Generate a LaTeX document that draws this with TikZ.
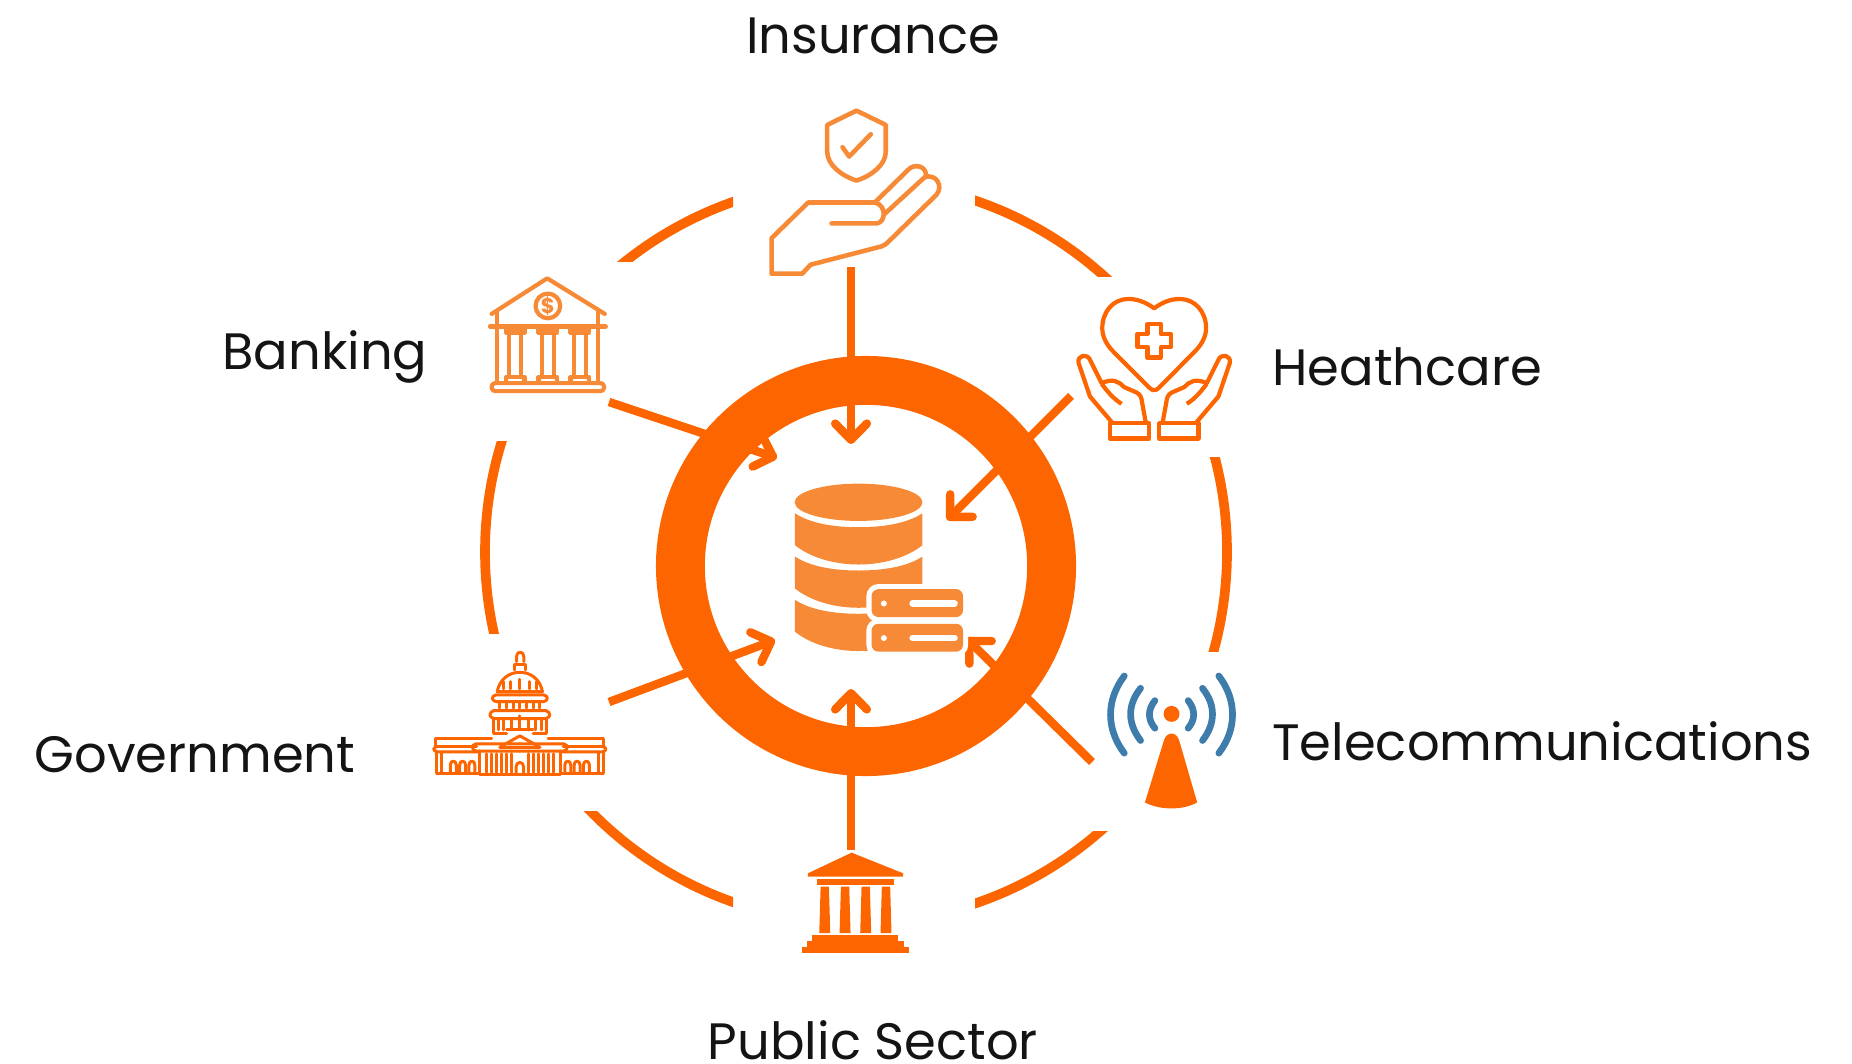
\documentclass[tikz,border=0pt]{standalone}
\usepackage{fontspec}
\setmainfont{Poppins}
\usepackage{tikz}
\usetikzlibrary{arrows.meta,arrows}
\usetikzlibrary{positioning}
\definecolor{ringorange}{HTML}{FD6500}
\definecolor{softorange}{HTML}{F68A37}
\definecolor{towerblue}{HTML}{3E7CAB}

\begin{document}
\begin{tikzpicture}[x=0.01cm,y=-0.01cm,>={Straight Barb[length=4.6pt,width=9pt,round]},semithick]
 \tikzstyle{hub node}=[circle,draw=ringorange,line width=13.9pt,minimum size=3.71cm,inner sep=0]
 \tikzstyle{label node}=[font=\fontsize{14.55pt}{17pt}\selectfont,text=black!92,inner sep=0]
 \tikzset{
 	icon scale/.style={x=0.00333cm,y=-0.00333cm},
 	feed/.style={draw=ringorange,line width=2.4pt,->},
 	sector arc/.style={draw=ringorange,line width=2.75pt},
 	soft line/.style={draw=softorange,line width=1.2pt,line join=round,line cap=round},
 	hot line/.style={draw=ringorange,line width=1.2pt,line join=round},
 	thin hot/.style={draw=ringorange,line width=0.85pt,line join=round,line cap=round},
 	wave/.style={draw=towerblue,line width=1.9pt,line cap=round}
 }
\useasboundingbox (0,0) rectangle (1852,1064);

       \node[hub node] (hub) at (866,566) {};

       \coordinate (insicon) at (740,90);
       \coordinate (bankicon) at (470,260);
       \coordinate (careicon) at (1060,280);
       \coordinate (telicon) at (1090,650);
       \coordinate (govicon) at (420,640);
       \coordinate (pubicon) at (780,840);
       \coordinate (dbicon) at (780,470);

       \node[label node] (insurance) [above of=hub,node distance=5.30cm,xshift=0.07cm] {Insurance};
       \node[label node] (banking) [left of=bankicon,node distance=1.45cm,yshift=-0.97cm] {Banking};
       \node[label node] (care) [right of=careicon,node distance=3.47cm,yshift=-0.87cm] {Heathcare};
       \node[label node] (telecom) [right of=telicon,node distance=4.52cm,yshift=-0.91cm] {Telecommunications};
       \node[label node] (government) [left of=govicon,node distance=2.25cm,yshift=-1.15cm] {Government};
       \node[label node] (public) [below of=hub,node distance=4.74cm,xshift=0.07cm] {Public Sector};

       \coordinate (f1) at (851,267);  \coordinate (t1) at (851,444);
       \coordinate (f2) at (609,402);  \coordinate (t2) at (777,458);
       \coordinate (f3) at (1071,396); \coordinate (t3) at (947,520);
       \coordinate (f4) at (609,702);  \coordinate (t4) at (775,640);
       \coordinate (f5) at (1092,762); \coordinate (t5) at (966,638);
       \coordinate (f6) at (851,850);  \coordinate (t6) at (851,689);

     \foreach \a/\b/\c/\d in {500/150/733/262,975/150/1115/277,1150/457/1260/651,975/831/1150/950,560/811/733/950,450/441/520/633}{
       \begin{scope}
         \clip (\a,\b) rectangle (\c,\d);
         \draw[sector arc] (856,552) circle (371);
       \end{scope}
     }

     \path (f1) edge[feed] (t1);
     \path (f2) edge[feed] (t2);
     \path (f3) edge[feed] (t3);
     \path (f4) edge[feed] (t4);
     \path (f5) edge[feed] (t5);
     \path (f6) edge[feed] (t6);

% insurance
\begin{scope}[shift={(insicon)},icon scale]
  \draw[soft line,line width=1.3pt] (350,62) -- (438,105) -- (438,185) .. controls (438,225) and (395,258) .. (350,272) .. controls (305,258) and (262,225) .. (262,185) -- (262,105) -- cycle;
  \draw[soft line,line width=1.3pt] (308,172) -- (328,200) -- (393,133);
  \draw[soft line,line width=1.3pt] (275,401) -- (410,401) .. controls (440,398) and (440,345) .. (405,338) -- (205,338) -- (95,445) -- (95,552) -- (187,552) -- (212,525) -- (425,470) .. controls (435,467) and (440,462) .. (450,452) -- (590,315) .. controls (612,290) and (590,250) .. (555,262) -- (435,372);
  \draw[soft line,line width=1.3pt] (405,338) -- (505,240) .. controls (525,218) and (565,230) .. (558,262);
\end{scope}

% banking
\begin{scope}[shift={(bankicon)},icon scale]
  \draw[soft line] (65,162) -- (232,55) -- (405,162);
  \draw[soft line] (82,155) -- (82,370);
  \draw[soft line] (385,155) -- (385,370);
  \draw[soft line] (60,200) -- (408,200);
  \draw[soft line] (234,138) circle (37);
  \node[font=\fontsize{6pt}{6pt}\selectfont\bfseries,text=softorange,inner sep=0] (dollar) at (234,138) {\$};
  \draw[soft line,rounded corners=1pt] (65,370) rectangle (403,394);
  \foreach \c in {136,234,330}{
    \draw[soft line] (\c-28,204) -- (\c+28,204) -- (\c+28,218) -- (\c-28,218) -- cycle;
    \draw[soft line] (\c-18,218) -- (\c-18,352);
    \draw[soft line] (\c+18,218) -- (\c+18,352);
    \draw[soft line] (\c-28,368) -- (\c-28,352) -- (\c+28,352) -- (\c+28,368);
  }
\end{scope}

% healthcare
\begin{scope}[shift={(careicon)},icon scale]
  \draw[hot line] (283,85) .. controls (255,65) and (230,57) .. (205,57) .. controls (160,57) and (127,95) .. (127,145) .. controls (127,170) and (140,195) .. (160,215) -- (270,325) .. controls (278,333) and (288,333) .. (296,325) -- (405,215) .. controls (425,195) and (439,170) .. (439,145) .. controls (439,95) and (405,57) .. (360,57) .. controls (335,57) and (310,65) .. cycle;
  \draw[hot line] (263,133) -- (303,133) -- (303,162) -- (333,162) -- (333,202) -- (303,202) -- (303,233) -- (263,233) -- (263,202) -- (233,202) -- (233,162) -- (263,162) -- cycle;
  \foreach \s in {1,-1}{
    \begin{scope}[shift={(283,0)},xscale=\s]
      \draw[hot line] (-133,430) rectangle (-15,476);
      \draw[hot line] (-125,430) -- (-193,350) -- (-227,250) .. controls (-233,225) and (-200,220) .. (-193,240) -- (-158,310) .. controls (-125,295) and (-105,305) .. (-90,322) -- (-53,338) .. controls (-40,345) and (-38,355) .. (-36,370) -- (-25,430);
      \draw[hot line] (-158,312) .. controls (-140,335) and (-125,355) .. (-98,372);
    \end{scope}
  }
\end{scope}

% telecom
\begin{scope}[shift={(telicon)},icon scale]
  \fill[ringorange] (245,192) circle (24);
  \fill[ringorange] (165,458) -- (222,272) .. controls (230,244) and (260,244) .. (268,272) -- (322,458) .. controls (280,482) and (210,482) .. cycle;
  \foreach \s in {1,-1}{
    \begin{scope}[shift={(245,0)},xscale=\s]
      \draw[wave] (-142,78) .. controls (-197,150) and (-197,238) .. (-142,310);
      \draw[wave] (-93,115) .. controls (-133,165) and (-133,220) .. (-93,272);
      \draw[wave] (-50,152) .. controls (-72,180) and (-72,208) .. (-50,235);
    \end{scope}
  }
\end{scope}

% government
\begin{scope}[shift={(govicon)},icon scale]
  \draw[thin hot] (290,65) -- (290,50) .. controls (290,32) and (312,32) .. (312,50) -- (312,65);
  \draw[thin hot] (284,90) -- (284,75) -- (318,75) -- (318,90);
  \foreach \s in {1,-1}{
    \begin{scope}[shift={(300,0)},xscale=\s]
      \draw[thin hot] (0,97) .. controls (-30,97) and (-60,115) .. (-68,155) -- (0,155);
      \draw[thin hot] (0,165) -- (-72,165) .. controls (-86,168) and (-86,182) .. (-72,185) -- (0,185);
      \draw[thin hot] (0,212) -- (-78,212) .. controls (-94,218) and (-94,232) .. (-78,236) -- (0,236);
      \draw[thin hot] (-80,236) -- (-80,282) -- (-40,282);
      \draw[thin hot] (-40,268) -- (0,268);
      \draw[thin hot] (-252,320) -- (-252,297) -- (-85,297);
      \draw[thin hot] (-130,320) -- (-248,320) .. controls (-262,322) and (-262,334) .. (-248,336) -- (-125,336);
      \draw[thin hot] (-250,336) -- (-250,400) -- (-122,400);
      \draw[thin hot] (-235,340) -- (-235,398);
      \draw[thin hot] (0,312) -- (-132,312) .. controls (-146,316) and (-146,328) .. (-132,334) -- (0,334);
      \draw[thin hot] (-122,334) -- (-122,405) -- (0,405);
      \draw[thin hot] (-60,322) -- (0,288);
      \draw[thin hot] (-60,322) -- (0,322);
      \foreach \d in {28,50}
        \draw[thin hot] (-\d,125) -- (-\d,147);
      \foreach \d in {20,40,60}
        \draw[thin hot] (-\d,188) -- (-\d,205);
      \foreach \d in {25,48,65}
        \draw[thin hot] (-\d,240) -- (-\d,270);
      \foreach \d in {25,40,55,70,85,100}
        \draw[thin hot] (-\d,342) -- (-\d,398);
      \foreach \d in {144,172,200}
        \draw[thin hot] (-\d-9,398) -- (-\d-9,376) .. controls (-\d-9,360) and (-\d+9,360) .. (-\d+9,376) -- (-\d+9,398);
    \end{scope}
  }
  \draw[thin hot] (300,118) -- (300,147);
  \draw[thin hot] (300,188) -- (300,205);
  \draw[thin hot] (300,228) -- (300,268);
  \draw[thin hot] (289,400) -- (289,380) .. controls (289,364) and (311,364) .. (311,380) -- (311,400);
\end{scope}

% public sector
\begin{scope}[shift={(pubicon)},icon scale,ringorange]
  \fill (84,100) -- (215,38) -- (370,100) -- (370,110) -- (84,110) -- cycle;
  \fill (111,117) rectangle (342,134);
  \foreach \c in {134,195,257,318}
    \fill (\c-12,140) -- (\c+13,140) -- (\c+17,280) -- (\c-16,280) -- cycle;
  \fill (97,286) rectangle (356,305);
  \fill (81,304) rectangle (372,322);
  \fill (66,321) rectangle (387,339);
\end{scope}

% database
\begin{scope}[shift={(dbicon)},icon scale]
  \fill[softorange] (236,97) ellipse (192 and 56);
  \foreach \y in {0,130,260}{
    \begin{scope}[yshift=-\y*0.00333cm]
      \fill[softorange] (45,130) .. controls (90,160) and (160,172) .. (236,172) .. controls (312,172) and (383,160) .. (428,130) -- (428,226) .. controls (383,262) and (312,284) .. (236,284) .. controls (160,284) and (90,262) .. (45,226) -- cycle;
    \end{scope}
  }
  \foreach \y in {358,462}{
    \draw[white,line width=2.9pt,rounded corners=2pt] (275,\y) rectangle (550,\y+84);
    \fill[softorange,rounded corners=2pt] (275,\y) rectangle (550,\y+84);
    \fill[white] (312,\y+43) circle (9);
    \draw[white,line width=1.75pt,line cap=round] (398,\y+43) -- (525,\y+43);
  }
\end{scope}
%\path (t6) edge[feed] (hub);
 \end{tikzpicture}
\end{document}
